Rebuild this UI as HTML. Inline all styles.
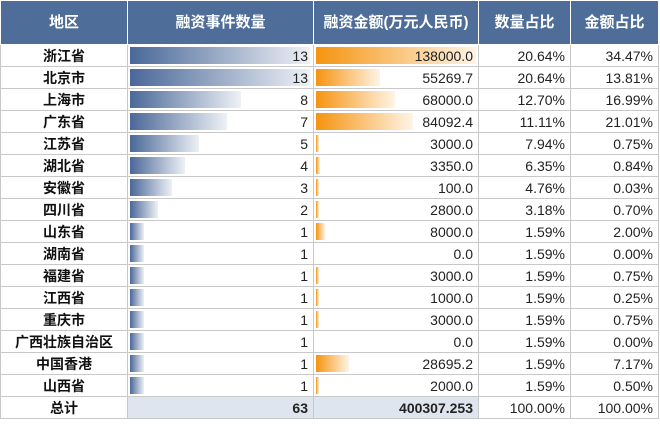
<!DOCTYPE html>
<html><head><meta charset="utf-8"><style>
body{margin:0;width:660px;height:424px;background:#fff;overflow:hidden;font-family:"Liberation Sans","Noto Sans CJK SC",sans-serif}
#t{position:absolute;left:0;top:0;border-collapse:collapse;table-layout:fixed}
#t td,#t th{border:1px solid #c8c8c8;padding:0;font-size:14px;position:relative;overflow:hidden;line-height:16px}
#t th{background:#4f6d99;color:#fff;height:43px;font-weight:bold;border-color:#fff;font-size:15px}
#t td{height:21px}
.reg{text-align:center;font-weight:bold;color:#111}
.num{text-align:right;padding-right:5px!important;color:#222}
.bar{position:absolute;left:2px;top:2px;bottom:2px}
.b1{background:linear-gradient(to right,#4a6898,#eef1f6)}
.b2{background:linear-gradient(to right,#f5940f,#fff4e6)}
.v{position:relative;padding-right:0}
tr.tot td{border:2px solid #222;height:20px}
</style></head><body>
<table id="t">
<colgroup><col style="width:127px"><col style="width:186px"><col style="width:165px"><col style="width:92px"><col style="width:88px"></colgroup>
<thead><tr>
<th>地区</th>
<th>融资事件数量</th>
<th>融资金额(万元人民币)</th>
<th>数量占比</th>
<th>金额占比</th>
</tr></thead><tbody id="tb"></tbody></table>
<script>
const regions=["浙江省","北京市","上海市","广东省","江苏省","湖北省","安徽省","四川省","山东省","湖南省","福建省","江西省","重庆市","广西壮族自治区","中国香港","山西省"];
const counts=[13,13,8,7,5,4,3,2,1,1,1,1,1,1,1,1];
const amounts=[138000.0,55269.7,68000.0,84092.4,3000.0,3350.0,100.0,2800.0,8000.0,0.0,3000.0,1000.0,3000.0,0.0,28695.2,2000.0];
const countShares=["20.64%","20.64%","12.70%","11.11%","7.94%","6.35%","4.76%","3.18%","1.59%","1.59%","1.59%","1.59%","1.59%","1.59%","1.59%","1.59%"];
const amountShares=["34.47%","13.81%","16.99%","21.01%","0.75%","0.84%","0.03%","0.70%","2.00%","0.00%","0.75%","0.25%","0.75%","0.00%","7.17%","0.50%"];
const totals=["总计","63","400307.253","100.00%","100.00%"];
const tb=document.getElementById('tb');
const maxC=Math.max(...counts),maxA=Math.max(...amounts);
regions.forEach((r,i)=>{
  const tr=document.createElement('tr');
  
  
  const cW=180*counts[i]/maxC, aW=amounts[i]>0?Math.max(3,160*amounts[i]/maxA):0;
  tr.innerHTML=`<td class="reg">${r}</td><td class="num"><div class="bar b1" style="width:${cW}px"></div><span class="v">${counts[i]}</span></td><td class="num"><div class="bar b2" style="width:${aW}px"></div><span class="v">${amounts[i].toFixed(1)}</span></td><td class="num">${countShares[i]}</td><td class="num">${amountShares[i]}</td>`;
  const tds=tr.querySelectorAll('td');
  const nm=['region-cell','count-cell','amount-cell','count-share-cell','amount-share-cell'];
  tds.forEach((td,j)=>{});
  tr.querySelectorAll('.bar').forEach(b=>{});
  tb.appendChild(tr);
});
const tt=document.createElement('tr');
tt.className='tot';


tt.innerHTML=totals.map((v,j)=>`<td class="${j==0?'reg':'num'}" style="${j==1||j==2?'background:#dfe5ee;font-weight:bold':''}">${v}</td>`).join('');
tt.querySelectorAll('td').forEach(td=>{});
tb.appendChild(tt);
</script>
</body></html>
